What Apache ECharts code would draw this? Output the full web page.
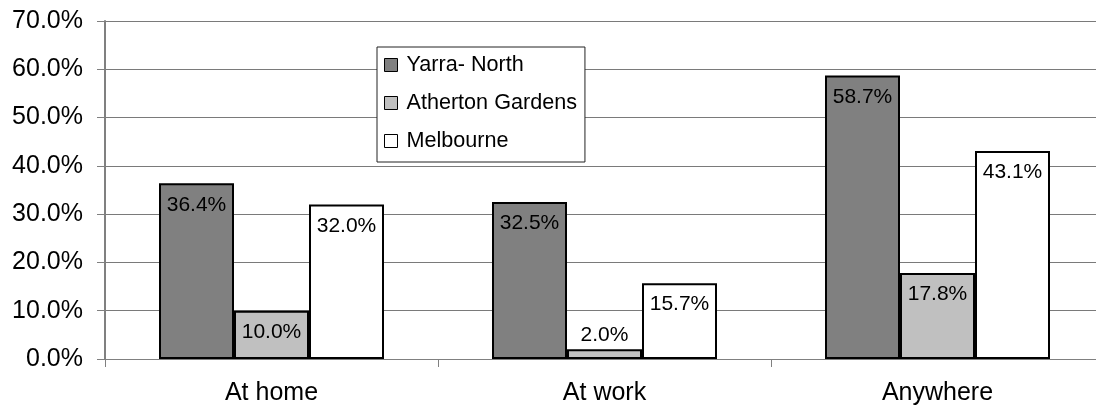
<!DOCTYPE html>
<html>
<head>
<meta charset="utf-8">
<script src="https://cdn.jsdelivr.net/npm/echarts@6/dist/echarts.min.js"></script>
<style>
  html, body { margin: 0; padding: 0; background: #fff; }
  #chart { width: 1096px; height: 408px; }
</style>
</head>
<body>
<div id="chart"></div>
<script>
var categories = ['At home', 'At work', 'Anywhere']
var yarraNorth = [36.4, 32.5, 58.7]
var athertonGardens = [10.0, 2.0, 17.8]
var melbourne = [32.0, 15.7, 43.1]

var font = 'Liberation Sans, Arial, sans-serif'

// Excel style: label sits inside the top of the bar, or above it when the bar is too short
function labelData(values) {
  return values.map(function(v) {
    if (v < 5) {
      return { value: v, label: { position: 'top', distance: 4 } }
    }
    return v
  })
}

var labelOption = {
  show: true,
  position: 'insideTop',
  distance: 11,
  color: '#000',
  fontFamily: font,
  fontSize: 21,
  formatter: function(p) { return p.value.toFixed(1) + '%' }
}

var chart = echarts.init(document.getElementById('chart'))
var option = {
  animation: false,
  backgroundColor: '#fff',
  // plot area runs a little past the right edge of the picture
  grid: { left: 105, width: 999, top: 21, bottom: 49, outerBoundsMode: 'none' },
  legend: {
    orient: 'vertical',
    left: 377,
    top: 47,
    width: 208,
    backgroundColor: '#fff',
    borderColor: '#222',
    borderWidth: 1,
    padding: [7, 8, 10, 7],
    itemGap: 16,
    itemWidth: 13,
    itemHeight: 13,
    icon: 'rect',
    itemStyle: { borderColor: '#000', borderWidth: 1 },
    textStyle: { fontFamily: font, fontSize: 21.6, lineHeight: 22, color: '#000', padding: [0, 0, 0, 4] },
    data: ['Yarra- North', 'Atherton Gardens', 'Melbourne']
  },
  xAxis: {
    type: 'category',
    data: categories,
    axisLine: { lineStyle: { color: '#808080', width: 1 } },
    axisTick: { show: true, length: 8, lineStyle: { color: '#808080' } },
    axisLabel: { color: '#000', fontFamily: font, fontSize: 25, margin: 22 }
  },
  yAxis: {
    type: 'value',
    min: 0,
    max: 70,
    interval: 10,
    axisLine: { show: true, lineStyle: { color: '#808080', width: 2 } },
    axisTick: { show: true, length: 8, lineStyle: { color: '#808080' } },
    axisLabel: {
      color: '#000',
      fontFamily: font,
      fontSize: 25,
      margin: 22,
      formatter: function(v) { return v.toFixed(1) + '%' }
    },
    splitLine: { lineStyle: { color: '#7a7a7a', width: 1 } }
  },
  series: [
    {
      name: 'Yarra- North',
      type: 'bar',
      barWidth: 75,
      barGap: 0,
      itemStyle: { color: '#808080', borderColor: '#000', borderWidth: 2 },
      label: labelOption,
      data: labelData(yarraNorth)
    },
    {
      name: 'Atherton Gardens',
      type: 'bar',
      barWidth: 75,
      barGap: 0,
      itemStyle: { color: '#c0c0c0', borderColor: '#000', borderWidth: 2 },
      label: labelOption,
      data: labelData(athertonGardens)
    },
    {
      name: 'Melbourne',
      type: 'bar',
      barWidth: 75,
      barGap: 0,
      itemStyle: { color: '#ffffff', borderColor: '#000', borderWidth: 2 },
      label: labelOption,
      data: labelData(melbourne)
    }
  ]
}
option && chart.setOption(option)
</script>
</body>
</html>
